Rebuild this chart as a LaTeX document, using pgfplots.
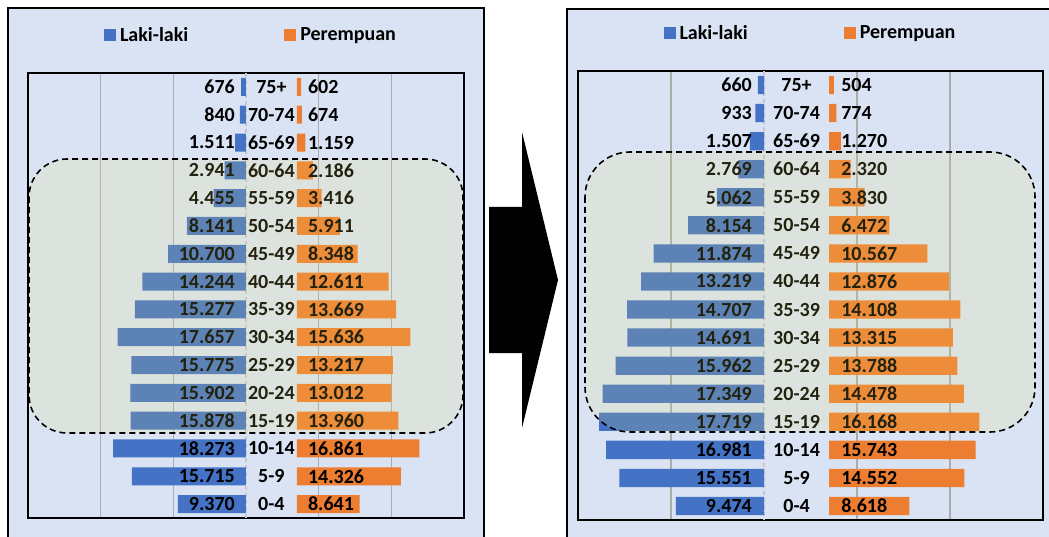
\documentclass[border=0pt]{standalone}
\usepackage{pgfplots}
\pgfplotsset{compat=1.18}
\usepackage{pgfplotstable}
\usepackage{fontspec}
\setmainfont{Carlito}
\definecolor{male}{HTML}{4472C4}
\definecolor{female}{HTML}{ED7D31}
\definecolor{panelbg}{HTML}{DAE3F3}
\definecolor{gridc}{HTML}{ABABAB}
\definecolor{veil}{RGB}{237,233,103}
\newcommand\lblfont{\fontsize{20}{22}\selectfont\bfseries}

\pgfplotstableread{
idx age m f
0 75+ 676 602
1 70-74 840 674
2 65-69 1511 1159
3 60-64 2941 2186
4 55-59 4455 3416
5 50-54 8141 5911
6 45-49 10700 8348
7 40-44 14244 12611
8 35-39 15277 13669
9 30-34 17657 15636
10 25-29 15775 13217
11 20-24 15902 13012
12 15-19 15878 13960
13 10-14 18273 16861
14 5-9 15715 14326
15 0-4 9370 8641
}\leftdata

\pgfplotstableread{
idx age m f
0 75+ 660 504
1 70-74 933 774
2 65-69 1507 1270
3 60-64 2769 2320
4 55-59 5062 3830
5 50-54 8154 6472
6 45-49 11874 10567
7 40-44 13219 12876
8 35-39 14707 14108
9 30-34 14691 13315
10 25-29 15962 13788
11 20-24 17349 14478
12 15-19 17719 16168
13 10-14 16981 15743
14 5-9 15551 14552
15 0-4 9474 8618
}\rightdata

\pgfplotsset{
  /pgf/number format/fixed,
  /pgf/number format/precision=0,
  /pgf/number format/1000 sep={.},
  /pgf/number format/assume math mode=true,
  pyrbase/.style={scale only axis, ymin=-0.5, ymax=15.5, y dir=reverse, clip=false,
    scaled x ticks=false},
  gridaxis/.style={pyrbase,
    axis line style={line width=1.5pt, black},
    xtick={-20000,-10000,10000,20000,30000}, xticklabels={}, ytick=\empty,
    major tick length=0pt, xmajorgrids, grid style={gridc, line width=1.3pt},
    extra x ticks={0}, extra x tick labels={},
    extra x tick style={grid style={gray!45, line width=1.3pt, dash pattern=on 4pt off 3pt}}},
  topaxis/.style={pyrbase, hide axis,
    legend columns=2,
    legend style={draw=none, fill=none, font=\lblfont,
      at={(axis description cs:0.5,1)}, anchor=center, yshift=38pt,
      /tikz/every odd column/.append style={column sep=2pt},
      /tikz/every even column/.append style={column sep=94pt}},
    legend image code/.code={\draw[#1, draw=none] (0pt,-6pt) rectangle (12pt,6pt);}},
  numlbl/.style={draw=none, mark=none, forget plot, point meta=explicit,
    nodes near coords,
    every node near coord/.append style={text=black, font=\lblfont, inner sep=0pt}},
  catlbl/.style={draw=none, mark=none, forget plot, point meta=explicit symbolic,
    nodes near coords,
    every node near coord/.append style={text=black, font=\lblfont, inner sep=0pt, anchor=center}},
}

\begin{document}
\begin{tikzpicture}
\useasboundingbox (0pt,0pt) rectangle (1049pt,536pt);
\clip (0pt,0pt) rectangle (1049pt,536pt);
\fill[white] (0pt,0pt) rectangle (1049pt,536pt);
% ---------- left panel ----------
\draw[fill=panelbg, line width=1.5pt] (8pt,528pt) rectangle (484pt,-30pt);
\begin{axis}[gridaxis, at={(28pt,463pt)}, anchor=north west, width=436pt, height=445pt,
  xmin=-30000, xmax=30000]
\addplot[xbar, bar shift=0pt, bar width=18pt, fill=male, draw=none]
  table[x expr=-\thisrow{m}, y=idx]{\leftdata};
\end{axis}
\begin{axis}[topaxis, at={(28pt,463pt)}, anchor=north west, width=436pt, height=445pt,
  xmin=-37000, xmax=23000, legend style={xshift=5pt}]
\addlegendimage{fill=male, draw=none}
\addlegendentry{Laki-laki}
\addplot[xbar, bar shift=0pt, bar width=18pt, fill=female, draw=none]
  table[x=f, y=idx]{\leftdata};
\addlegendentry{Perempuan}
\addplot[numlbl, every node near coord/.append style={anchor=east, xshift=-11pt}]
  table[x expr=-7000, y=idx, meta=m]{\leftdata};
\addplot[numlbl, every node near coord/.append style={anchor=west, xshift=11pt}]
  table[x expr=0, y=idx, meta=f]{\leftdata};
\addplot[catlbl] table[x expr=-3500, y=idx, meta=age]{\leftdata};
\end{axis}
\draw[fill=veil, fill opacity=0.15, line width=1.6pt, dash pattern=on 6pt off 4pt,
  rounded corners=38pt] (29pt,377pt) rectangle (463pt,103pt);
% ---------- arrow ----------
\fill[black] (489pt,329pt) -- (522pt,329pt) -- (522pt,404pt) -- (558pt,256pt) -- (522pt,108pt) -- (522pt,183pt) -- (489pt,183pt) -- cycle;
% ---------- right panel ----------
\draw[fill=panelbg, line width=1.5pt] (567pt,527pt) rectangle (1080pt,-30pt);
\begin{axis}[gridaxis, at={(578pt,465pt)}, anchor=north west, width=465pt, height=449pt,
  xmin=-20000, xmax=30000]
\addplot[xbar, bar shift=0pt, bar width=18.3pt, fill=male, draw=none]
  table[x expr=-\thisrow{m}, y=idx]{\rightdata};
\end{axis}
\begin{axis}[topaxis, at={(578pt,465pt)}, anchor=north west, width=465pt, height=449pt,
  xmin=-27000, xmax=23000]
\addlegendimage{fill=male, draw=none}
\addlegendentry{Laki-laki}
\addplot[xbar, bar shift=0pt, bar width=18.3pt, fill=female, draw=none]
  table[x=f, y=idx]{\rightdata};
\addlegendentry{Perempuan}
\addplot[numlbl, every node near coord/.append style={anchor=east, xshift=-12pt}]
  table[x expr=-7000, y=idx, meta=m]{\rightdata};
\addplot[numlbl, every node near coord/.append style={anchor=west, xshift=12pt}]
  table[x expr=0, y=idx, meta=f]{\rightdata};
\addplot[catlbl] table[x expr=-3500, y=idx, meta=age]{\rightdata};
\end{axis}
\draw[fill=veil, fill opacity=0.15, line width=1.6pt, dash pattern=on 6pt off 4pt,
  rounded corners=45pt] (585pt,384pt) rectangle (1035pt,104pt);
\end{tikzpicture}
\end{document}
